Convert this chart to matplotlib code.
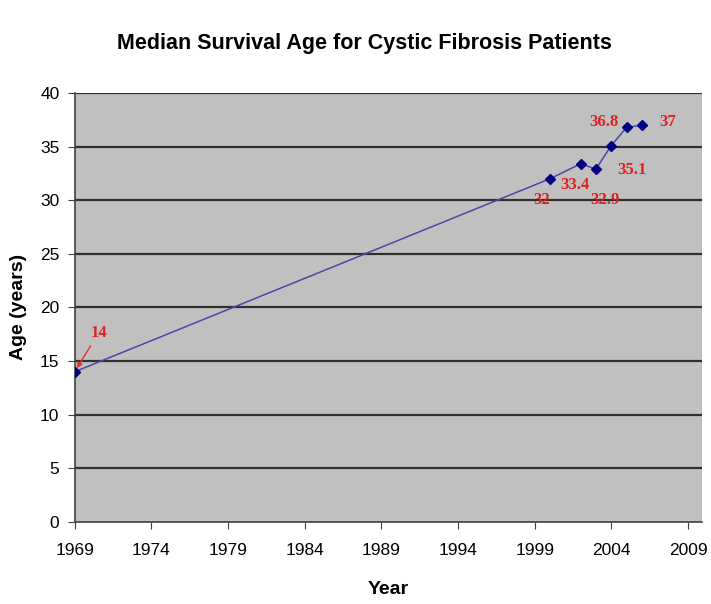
import matplotlib
matplotlib.use("Agg")
import matplotlib.pyplot as plt

years = [1969, 2000, 2002, 2003, 2004, 2005, 2006]
ages = [14, 32, 33.4, 32.9, 35.1, 36.8, 37]
labels = ["14", "32", "33.4", "32.9", "35.1", "36.8", "37"]
x_ticks = [1969, 1974, 1979, 1984, 1989, 1994, 1999, 2004, 2009]
y_ticks = [0, 5, 10, 15, 20, 25, 30, 35, 40]

# label offsets in pixels (dx, dy) from each point
offsets = [(24, 39), (-8, -21), (-6, -21), (9, -31), (21, -24), (-23, 5), (26, 3)]

plt.rcParams["font.family"] = ["Liberation Sans", "DejaVu Sans"]

fig = plt.figure(figsize=(7.11, 6.04), dpi=100)
ax = fig.add_axes([0.105, 0.136, 0.882, 0.710])
ax.set_facecolor("#C0C0C0")

for y in y_ticks[1:]:
    ax.axhline(y, color="#303030", lw=1.6, zorder=1)

ax.plot(years, ages, color="#4848A8", lw=1.1, zorder=3)
ax.plot(years, ages, ls="none", marker="D", ms=5.5, color="#000080", zorder=4)

for x, y, t, (dx, dy) in zip(years, ages, labels, offsets):
    kw = {}
    if t == "14":
        kw["arrowprops"] = dict(arrowstyle="-|>", color="#E03030", lw=1.0,
                                shrinkA=2, shrinkB=3, mutation_scale=8)
    ax.annotate(t, xy=(x, y), xytext=(dx * 0.72, dy * 0.72), textcoords="offset points",
                ha="center", va="center", color="#E02020", fontsize=12,
                fontweight="bold", family=["Liberation Serif", "DejaVu Serif"], **kw)

ax.set_xlim(1969, 2009.9)
ax.set_ylim(0, 40)
ax.set_xticks(x_ticks)
ax.set_yticks(y_ticks)
ax.tick_params(direction="out", length=5, color="#404040", labelsize=12.5, pad=6)
ax.tick_params(axis="x", pad=10)
for s in ["top", "right"]:
    ax.spines[s].set_visible(False)
for s in ["left", "bottom"]:
    ax.spines[s].set_color("#404040")
    ax.spines[s].set_linewidth(1.2)

ax.set_xlabel("Year", fontsize=14, fontweight="bold", labelpad=17)
ax.set_ylabel("Age (years)", fontsize=14, fontweight="bold", labelpad=9)
fig.suptitle("Median Survival Age for Cystic Fibrosis Patients", fontsize=15.5,
             fontweight="bold", x=0.513, y=0.945)

fig.savefig("out.png", dpi=100)
